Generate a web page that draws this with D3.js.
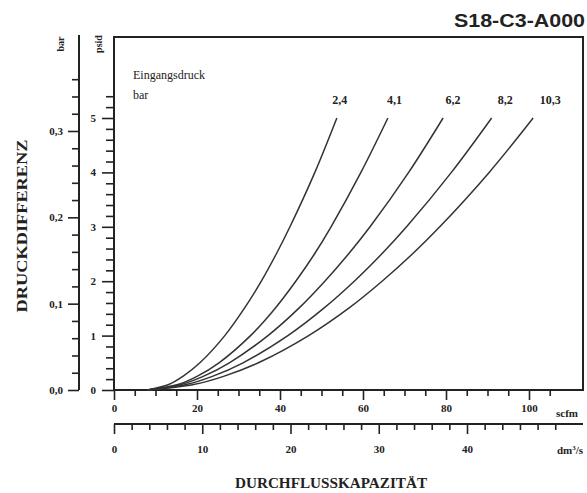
<!doctype html>
<html lang="de">
<head>
  <meta charset="utf-8">
  <title>S18-C3-A000</title>
  <script src="https://cdn.jsdelivr.net/npm/d3@7"></script>
  <style>
    body{margin:0;background:#fff}
    svg text{font-family:"Liberation Serif","Times New Roman",serif;fill:#222}
    .ax path,.ax line{stroke:#222}
  </style>
</head>
<body>
<div id="chart"></div>
<script>
// Eingangsdruck (bar); Kurven als [scfm, psid]
var pressures = ["2,4", "4,1", "6,2", "8,2", "10,3"];
var curve24 = [[8,0],[13.2,0.1],[16.6,0.25],[20.7,0.5],[26.7,1],[31.4,1.5],[35.5,2],[39.1,2.5],[42.4,3],[48.4,4],[53.7,5]];
var curve41 = [[8,0],[15.4,0.1],[20,0.25],[25.3,0.5],[32.9,1],[38.8,1.5],[43.8,2],[48.3,2.5],[52.3,3],[59.5,4],[66,5]];
var curve62 = [[8,0],[16.1,0.1],[21.5,0.25],[27.8,0.5],[37.1,1],[44.5,1.5],[50.8,2],[56.5,2.5],[61.7,3],[71,4],[79.3,5]];
var curve82 = [[8,0],[17.4,0.1],[23.7,0.25],[31.1,0.5],[41.9,1],[50.5,1.5],[57.9,2],[64.5,2.5],[70.5,3],[81.3,4],[91,5]];
var curve103 = [[8,0],[19.2,0.1],[26.4,0.25],[34.8,0.5],[46.9,1],[56.5,1.5],[64.6,2],[71.9,2.5],[78.5,3],[90.4,4],[101,5]];
var curves = [curve24, curve41, curve62, curve82, curve103];

var scfmTicks = [0, 20, 40, 60, 80, 100];
var dm3Ticks = [0, 10, 20, 30, 40];
var psidTicks = [0, 1, 2, 3, 4, 5];
var barTicks = [0, 0.1, 0.2, 0.3];

var W = 587, H = 493;
var svg = d3.select("#chart").append("svg").attr("width", W).attr("height", H);

var x = d3.scaleLinear().domain([0, 100]).range([114, 529]);
var xd = d3.scaleLinear().domain([0, 40]).range([114, 467]);
var yp = d3.scaleLinear().domain([0, 5]).range([390, 118]);
var yb = d3.scaleLinear().domain([0, 0.3]).range([390, 131]);
var comma = function (d) { return d3.format(".1f")(d).replace(".", ","); };

function axis(gen, vals, size, fmt, tr) {
  var g = svg.append("g").attr("class", "ax").attr("transform", tr)
    .call(gen.tickValues(vals).tickSize(size).tickSizeOuter(0).tickFormat(fmt));
  g.select(".domain").remove();
  g.selectAll("line").attr("stroke-width", 1.6);
  g.selectAll("text").attr("font-family", null).attr("font-size", 11).attr("font-weight", "bold");
  return g;
}
function minors(step, max, majors) {
  return d3.range(0, max + 1e-9, step).filter(function (v) {
    return !majors.some(function (m) { return Math.abs(m - v) < 1e-6; });
  });
}

// bar axis
axis(d3.axisLeft(yb), minors(0.02, 0.36, barTicks), 7, "", "translate(79,0)");
axis(d3.axisLeft(yb), barTicks, 11, comma, "translate(79,0)").selectAll("text").attr("dx", -2);
svg.append("line").attr("x1", 79).attr("x2", 79).attr("y1", 35).attr("y2", yb(0))
  .attr("stroke", "#222").attr("stroke-width", 2);
svg.append("text").attr("transform", "translate(64,44) rotate(-90)").attr("text-anchor", "middle")
  .attr("font-size", 10).attr("font-weight", "bold").text("bar");

// psid axis
axis(d3.axisLeft(yp), minors(0.2, 5.4, psidTicks), 8, "", "translate(114,0)");
axis(d3.axisLeft(yp), psidTicks, 12, String, "translate(114,0)").selectAll("text").attr("dx", -3);
svg.append("text").attr("transform", "translate(102,44) rotate(-90)").attr("text-anchor", "middle")
  .attr("font-size", 10).attr("font-weight", "bold").text("psid");

// scfm axis
axis(d3.axisBottom(x), minors(5, 105, scfmTicks), 6, "", "translate(0,390)");
axis(d3.axisBottom(x), scfmTicks, 10, String, "translate(0,390)").selectAll("text").attr("dy", "0.85em");
svg.append("text").attr("x", 556).attr("y", 417).attr("font-size", 11).attr("font-weight", "bold").text("scfm");

// dm3/s axis
axis(d3.axisBottom(xd), minors(2, 50, dm3Ticks), 6, "", "translate(0,424)");
axis(d3.axisBottom(xd), dm3Ticks, 10, String, "translate(0,424)").selectAll("text").attr("dy", "1.45em");
svg.append("line").attr("x1", 114).attr("x2", 583).attr("y1", 424).attr("y2", 424)
  .attr("stroke", "#222").attr("stroke-width", 2);
svg.append("text").attr("x", 583).attr("y", 454).attr("text-anchor", "end")
  .attr("font-size", 11).attr("font-weight", "bold").html("dm<tspan dy='-4' font-size='7'>3</tspan><tspan dy='4'>/s</tspan>");

// plot frame
svg.append("rect").attr("x", 114).attr("y", 37).attr("width", 583 - 114).attr("height", 390 - 37)
  .attr("fill", "none").attr("stroke", "#222").attr("stroke-width", 2);

// curves
var line = d3.line().x(function (d) { return x(d[0]); }).y(function (d) { return yp(d[1]); })
  .curve(d3.curveCatmullRom.alpha(0.5));
svg.append("g").selectAll("path").data(curves).enter().append("path")
  .attr("d", line).attr("fill", "none").attr("stroke", "#333").attr("stroke-width", 1.5);
svg.append("g").selectAll("text").data(curves).enter().append("text")
  .attr("x", function (d, i) { return x(d[d.length - 1][0]) + 3 + 3.5 * i; })
  .attr("y", 104).attr("text-anchor", "middle").attr("font-size", 12).attr("font-weight", "bold")
  .text(function (d, i) { return pressures[i]; });

svg.append("text").attr("x", 133).attr("y", 79).attr("font-size", 12).text("Eingangsdruck");
svg.append("text").attr("x", 133).attr("y", 99).attr("font-size", 12).text("bar");

// titles
svg.append("text").attr("x", 585).attr("y", 27).attr("text-anchor", "end")
  .attr("textLength", 131).attr("lengthAdjust", "spacingAndGlyphs")
  .style("font-family", "'Liberation Sans',Arial,sans-serif").attr("font-size", 18).attr("font-weight", "bold")
  .text("S18-C3-A000");
svg.append("text").attr("transform", "translate(27,226) rotate(-90)").attr("text-anchor", "middle")
  .attr("textLength", 173).attr("lengthAdjust", "spacingAndGlyphs")
  .attr("font-size", 15).attr("font-weight", "bold").text("DRUCKDIFFERENZ");
svg.append("text").attr("x", 331).attr("y", 488).attr("text-anchor", "middle")
  .attr("textLength", 192).attr("lengthAdjust", "spacingAndGlyphs")
  .attr("font-size", 15).attr("font-weight", "bold").text("DURCHFLUSSKAPAZITÄT");
</script>
</body>
</html>
